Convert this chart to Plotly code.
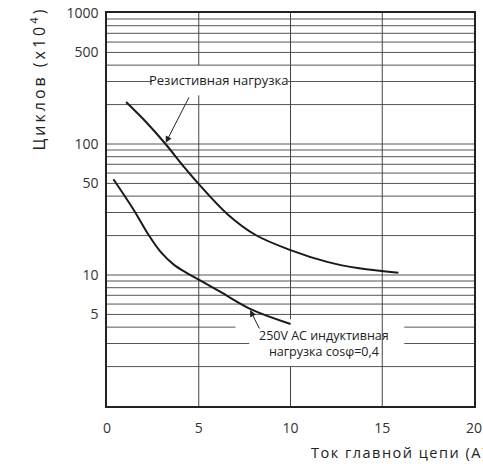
import math
import plotly.graph_objects as go

# ---- data ----
res_x = [1.04, 2.14, 3.19, 4.19, 4.97, 6.58, 8.1, 10.0, 12.0, 13.74, 15.88]
res_y = [209, 146.5, 100, 67, 50, 29.0, 20.2, 15.5, 12.6, 11.25, 10.4]

ind_x = [0.35, 1.45, 2.27, 2.91, 3.64, 4.38, 5.0, 6.16, 7.92, 10.0]
ind_y = [53.8, 31.5, 20.2, 15.1, 12.0, 10.3, 9.2, 7.46, 5.41, 4.23]

x_ticks = [0, 5, 10, 15, 20]
y_ticks = [5, 10, 50, 100, 500, 1000]
y_ticktext = ["5", "10", "50", "100", "500", "1000"]

x_grid = [5, 10, 15]
y_grid = [m * 10 ** d for d in range(3) for m in range(2, 10)] + [10, 100]

# gaps in grid lines behind the labels: (value, gap_start, gap_end)
h_gaps = {300: (2.45, 9.85), 4: (7.0, 16.2), 3: (7.75, 16.2)}
v_gaps = {5: (235, 400), 10: (2.0, 4.6)}

label_res = "Резистивная нагрузка"
label_ind = "250V AC индуктивная<br>нагрузка cos\u03c6=0,4"
x_title = "Ток главной цепи (A)"
y_title = "Циклов (x10<sup>4</sup>)"

FONT = "Open Sans"
fig = go.Figure()

grid_col = "#555555"
shapes = []
for v in sorted(set(y_grid)):
    segs = [(0, 20)]
    if v in h_gaps:
        a, b = h_gaps[v]
        segs = [(0, a), (b, 20)]
    for a, b in segs:
        shapes.append(dict(type="line", xref="x", yref="y", x0=a, x1=b, y0=v, y1=v,
                           line=dict(color=grid_col, width=1), layer="below"))
for v in x_grid:
    segs = [(1, 1000)]
    if v in v_gaps:
        a, b = v_gaps[v]
        segs = [(1, a), (b, 1000)]
    for a, b in segs:
        shapes.append(dict(type="line", xref="x", yref="y", x0=v, x1=v, y0=a, y1=b,
                           line=dict(color="#444444", width=1), layer="below"))

fig.add_trace(go.Scatter(x=res_x, y=res_y, mode="lines", line=dict(color="#1a1a1a", width=2, shape="spline"),
                         hoverinfo="skip", showlegend=False))
fig.add_trace(go.Scatter(x=ind_x, y=ind_y, mode="lines", line=dict(color="#1a1a1a", width=2, shape="spline"),
                         hoverinfo="skip", showlegend=False))

annotations = [
    dict(x=6.13, y=2.489, xref="x", yref="y", text=label_res, showarrow=False,
         font=dict(family=FONT, size=13, color="#222222")),
    dict(x=11.85, y=0.479, xref="x", yref="y", text=label_ind, showarrow=False,
         font=dict(family=FONT, size=12.5, color="#222222")),
    # arrows
    dict(x=3.2, y=math.log10(102), xref="x", yref="y", ax=24, ay=-47, text="", showarrow=True,
         arrowhead=2, arrowsize=1.3, arrowwidth=1, arrowcolor="#222222"),
    dict(x=7.8, y=math.log10(5.4), xref="x", yref="y", ax=10, ay=20, text="", showarrow=True,
         arrowhead=2, arrowsize=1.3, arrowwidth=1, arrowcolor="#222222"),
    # axis titles
    dict(x=(313 - 107) / 375, y=-46 / 393, xref="paper", yref="paper", xanchor="left", yanchor="middle",
         text='<span style="letter-spacing:1.5px">' + x_title + '</span>', showarrow=False,
         font=dict(family=FONT, size=14.5, color="#222222")),
    dict(x=-70 / 375, y=(406 - 78) / 393, xref="paper", yref="paper", xanchor="center", yanchor="middle",
         text='<span style="letter-spacing:3px">' + y_title + '</span>', textangle=-90, showarrow=False,
         font=dict(family=FONT, size=16, color="#222222")),
]

fig.update_layout(
    width=483, height=467,
    margin=dict(l=107, r=1, t=13, b=61),
    paper_bgcolor="white", plot_bgcolor="white",
    shapes=shapes, annotations=annotations,
    showlegend=False,
)
fig.update_xaxes(range=[0, 20], tickvals=x_ticks, showgrid=False, zeroline=False,
                 showline=True, mirror=True, linecolor="#222222", linewidth=1.5,
                 ticks="", ticklabelstandoff=8, ticklabeloverflow="allow",
                 tickfont=dict(family=FONT, size=14, color="#333333"))
fig.update_yaxes(type="log", range=[0, 3], tickvals=y_ticks, ticktext=y_ticktext, showgrid=False,
                 zeroline=False, showline=True, mirror=True, linecolor="#222222", linewidth=1.5,
                 ticks="", ticklabelstandoff=4, tickfont=dict(family=FONT, size=14, color="#333333"))

fig.write_html("out.html", config={"displayModeBar": False},
               post_script="document.body.style.margin='0';")
